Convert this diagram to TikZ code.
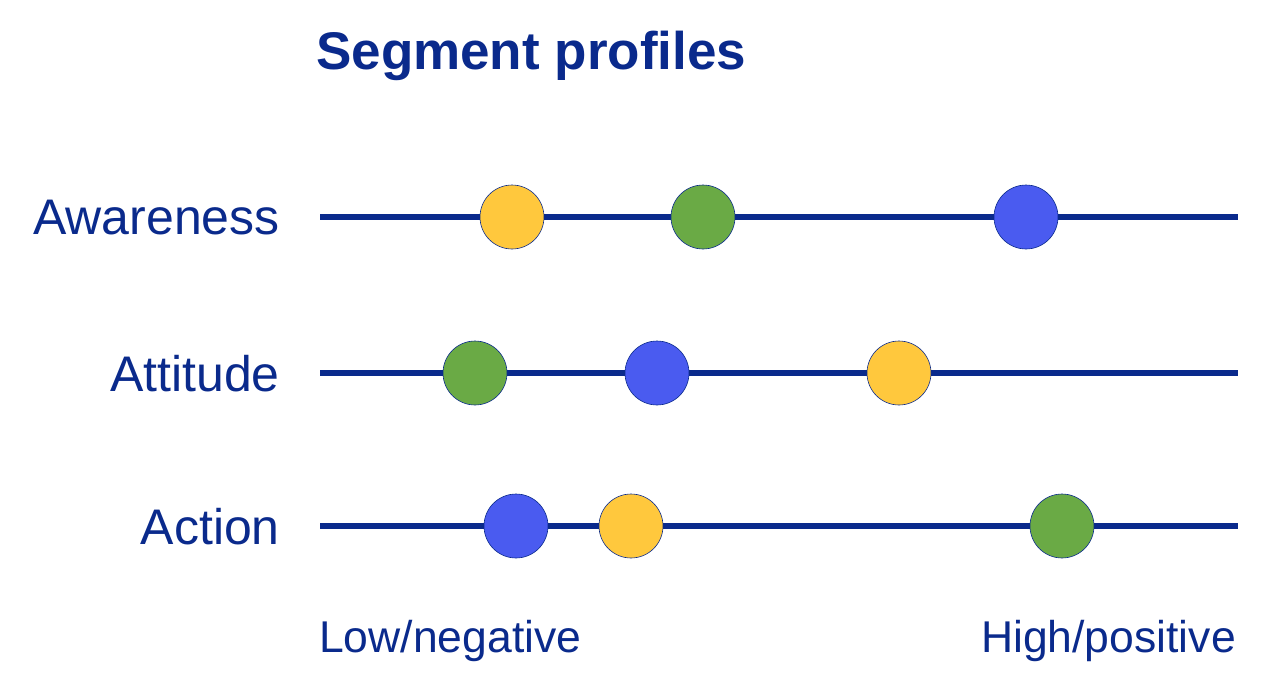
\documentclass[tikz,border=0pt]{standalone}
\usepackage{fontspec}
\setmainfont{Liberation Sans}
\definecolor{navy}{HTML}{0A2A8C}
\definecolor{segyellow}{HTML}{FFC83D}
\definecolor{seggreen}{HTML}{6AAA45}
\definecolor{segblue}{HTML}{4A5BF0}
\tikzset{
  scale line/.style={line width=5.5pt, color=navy},
  dot/.style={circle, minimum size=64pt, inner sep=0pt, draw=navy, line width=0.6pt},
  row label/.style={anchor=east, inner sep=0pt, text=navy, font=\fontsize{50}{56}\selectfont}
}
\begin{document}
\begin{tikzpicture}
[every node/.style={inner sep=0pt}]
\useasboundingbox (0pt, 0pt) rectangle (1265pt, -696pt);
\node (title) [anchor=west, text=navy, font=\fontsize{53}{60}\selectfont\bfseries] at (316pt, -56pt) {Segment profiles};
\node (awareness) [row label] at (280pt, -218pt) {Awareness};
\node (attitude) [row label] at (280pt, -374pt) {Attitude};
\node (action) [row label] at (280pt, -527pt) {Action};
\coordinate (aw-l) at (320pt, -217pt);
\coordinate (aw-r) at (1238pt, -217pt);
\coordinate (at-l) at (320pt, -373pt);
\coordinate (at-r) at (1238pt, -373pt);
\coordinate (ac-l) at (320pt, -526pt);
\coordinate (ac-r) at (1238pt, -526pt);
\draw [scale line] (aw-l) -- (aw-r);
\draw [scale line] (at-l) -- (at-r);
\draw [scale line] (ac-l) -- (ac-r);
\node (aw1) [dot, fill=segyellow] at (512pt, -217pt) {};
\node (aw2) [dot, fill=seggreen] at (703pt, -217pt) {};
\node (aw3) [dot, fill=segblue] at (1026pt, -217pt) {};
\node (at1) [dot, fill=seggreen] at (475pt, -373pt) {};
\node (at2) [dot, fill=segblue] at (657pt, -373pt) {};
\node (at3) [dot, fill=segyellow] at (899pt, -373pt) {};
\node (ac1) [dot, fill=segblue] at (516pt, -526pt) {};
\node (ac2) [dot, fill=segyellow] at (631pt, -526pt) {};
\node (ac3) [dot, fill=seggreen] at (1062pt, -526pt) {};
\node (low) [anchor=west, text=navy, font=\fontsize{44.5}{50}\selectfont] at (319pt, -641pt) {Low/negative};
\node (high) [anchor=east, text=navy, font=\fontsize{44.5}{50}\selectfont] at (1236pt, -641pt) {High/positive};
\end{tikzpicture}
\end{document}
